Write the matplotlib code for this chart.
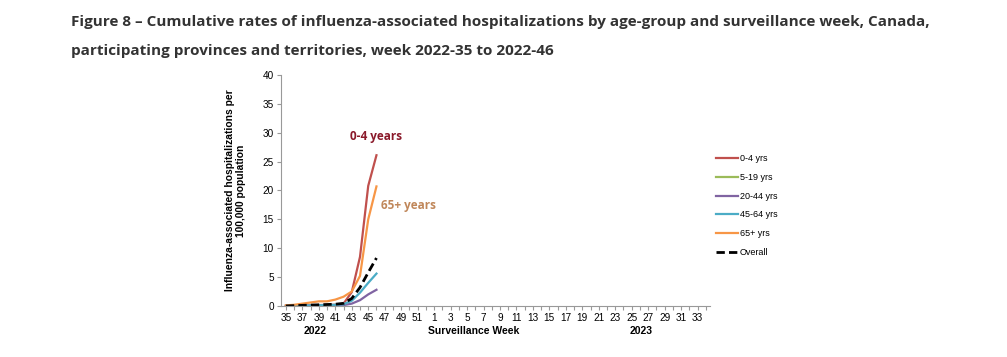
import numpy as np
import matplotlib.pyplot as plt

# -----------------------------
# Data
# -----------------------------
week_labels = [str(w) for w in range(35, 53)] + [str(w) for w in range(1, 35)]
data_weeks = list(range(35, 47))   # 2022-35 to 2022-46

rate_0_4 = [0.0, 0.05, 0.1, 0.1, 0.15, 0.2, 0.2, 0.4, 2.4, 8.5, 20.8, 26.1]
rate_5_19 = [np.nan] * 12          # not visible in the reference
rate_20_44 = [0.0, 0.02, 0.04, 0.06, 0.08, 0.1, 0.12, 0.15, 0.4, 1.0, 2.0, 2.8]
rate_45_64 = [0.0, 0.03, 0.06, 0.1, 0.12, 0.15, 0.2, 0.3, 0.9, 2.3, 4.0, 5.6]
rate_65 = [0.1, 0.2, 0.4, 0.6, 0.8, 0.8, 1.1, 1.6, 2.5, 5.2, 15.0, 20.7]
rate_overall = [0.0, 0.05, 0.1, 0.15, 0.2, 0.25, 0.3, 0.45, 1.3, 3.2, 5.8, 8.3]

series = [
    ("0-4 yrs", rate_0_4, "#C0504D", "-"),
    ("5-19 yrs", rate_5_19, "#9BBB59", "-"),
    ("20-44 yrs", rate_20_44, "#8064A2", "-"),
    ("45-64 yrs", rate_45_64, "#4BACC6", "-"),
    ("65+ yrs", rate_65, "#F79646", "-"),
    ("Overall", rate_overall, "black", "--"),
]

x_data = [week_labels.index(str(w)) for w in data_weeks]

# -----------------------------
# Figure
# -----------------------------
fig = plt.figure(figsize=(10.07, 3.57), dpi=100)

fig.text(0.071, 0.937, "Figure 8 \u2013 Cumulative rates of influenza-associated hospitalizations by age-group and surveillance week, Canada,",
         fontsize=11, fontweight="bold", family="Open Sans", color="#333333", va="center")
fig.text(0.071, 0.858, "participating provinces and territories, week 2022-35 to 2022-46",
         fontsize=11, fontweight="bold", family="Open Sans", color="#333333", va="center")

ax = fig.add_axes([0.279, 0.143, 0.426, 0.647])

for label, vals, color, ls in series:
    if ls == "--":
        ax.plot(x_data, vals, color=color, linestyle="--", dashes=(3, 1.5), linewidth=2.0, label=label)
    else:
        ax.plot(x_data, vals, color=color, linewidth=1.6, label=label)

ax.set_xlim(-0.6, 51.5)
ax.set_ylim(0, 40)
ax.set_yticks(range(0, 41, 5))
ax.set_xticks(range(len(week_labels)))
ax.set_xticklabels([lab if i % 2 == 0 else "" for i, lab in enumerate(week_labels)])
ax.tick_params(axis="both", labelsize=7.2, length=3, color="#999999", pad=2,
               labelfontfamily="Liberation Sans")
ax.tick_params(axis="x", direction="out", length=3)

for side in ["top", "right"]:
    ax.spines[side].set_visible(False)
for side in ["left", "bottom"]:
    ax.spines[side].set_color("#999999")
    ax.spines[side].set_linewidth(0.8)

ax.set_ylabel("Influenza-associated hospitalizations per\n100,000 population",
              fontsize=7.4, fontweight="bold", family="Liberation Sans", labelpad=12,
              linespacing=1.1)

fig.text(0.313, 0.065, "2022", fontsize=7.5, fontweight="bold", family="Liberation Sans", ha="center")
fig.text(0.470, 0.065, "Surveillance Week", fontsize=7.5, fontweight="bold", family="Liberation Sans", ha="center")
fig.text(0.637, 0.065, "2023", fontsize=7.5, fontweight="bold", family="Liberation Sans", ha="center")

ax.text(x_data[-1], 29.4, "0-4 years", fontsize=8.5, fontweight="bold", family="Open Sans",
        color="#8B1A2B", ha="center", va="center")
ax.text(x_data[-1] + 0.6, 17.4, "65+ years", fontsize=8.5, fontweight="bold", family="Open Sans",
        color="#C0875A", ha="left", va="center")

leg = ax.legend(loc="upper left", bbox_to_anchor=(0.995, 0.692), frameon=False,
                handlelength=2.5, handletextpad=0.15, labelspacing=1.08,
                prop={"family": "Liberation Sans", "size": 6.5})

plt.savefig("out.png", dpi=100)
plt.close()
